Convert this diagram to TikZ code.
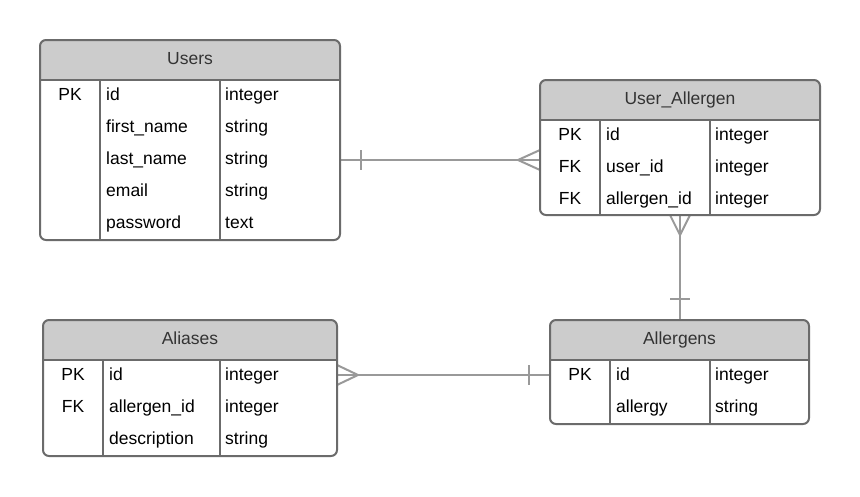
\documentclass[tikz,border=0pt]{standalone}
\usepackage{fontspec}
\setmainfont{Liberation Sans}
\usetikzlibrary{calc}
\definecolor{hdrfill}{HTML}{CCCCCC}
\definecolor{bordc}{HTML}{6B6B6B}
\definecolor{connc}{HTML}{999999}
\definecolor{ttlc}{HTML}{333333}
\pgfdeclarelayer{bg}
\pgfsetlayers{bg,main}
\tikzset{
  tblbox/.style={rectangle, inner sep=0pt, outer sep=0pt},
  hdr/.style={fill=hdrfill},
  bord/.style={draw=bordc, line width=2pt},
  conn/.style={draw=connc, line width=2pt},
  ttl/.style={anchor=base, inner sep=0pt, text=ttlc, font=\fontsize{17.5}{20}\selectfont},
  cell/.style={inner sep=0pt, text=black, font=\fontsize{17.5}{20}\selectfont},
}
\newcommand{\erdtable}[8]{%
  \def\tx{#2}\def\ty{#3}\def\txx{#4}\def\tyy{#5}\def\tca{#6}\def\tcb{#7}\def\tname{#1}%
  \pgfmathsetmacro\thb{#3+40}%
  \node[tblbox, minimum width={(#4-#2)*1pt}, minimum height={(#5-#3)*1pt}] (#1) at ({(#2+#4)/2},{(#3+#5)/2}) {};
  \begin{scope}
    \clip (#2,#3) rectangle (#4,\thb);
    \fill[hdr, rounded corners=6pt] (#2,#3) rectangle (#4,#5);
  \end{scope}
  \draw[bord, rounded corners=6pt] (#2,#3) rectangle (#4,#5);
  \draw[bord] (#2,\thb) -- (#4,\thb) (#6,\thb) -- (#6,#5) (#7,\thb) -- (#7,#5);
  \node[ttl] (#1-title) at ({(#2+#4)/2},{#3+24}) {#8};
}
\newcommand{\erdrow}[5]{%
  \pgfmathsetmacro\ry{\thb+20+32*(#2-1)}%
  \if\relax\detokenize{#3}\relax\else
    \node[cell, anchor=base] (\tname-k#1) at ({(\tx+\tca)/2},\ry) {#3};
  \fi
  \node[cell, anchor=base west] (\tname-f#1) at ({\tca+6},\ry) {#4};
  \node[cell, anchor=base west] (\tname-t#1) at ({\tcb+5},\ry) {#5};
}
\begin{document}
\begin{tikzpicture}[x=1pt, y=-1pt]
\useasboundingbox (0,0) rectangle (860,496);

\erdtable{users}{40}{40}{340}{240}{100}{220}{Users}
\erdrow{1}{1}{PK}{id}{integer}
\erdrow{2}{2}{}{first\_name}{string}
\erdrow{3}{3}{}{last\_name}{string}
\erdrow{4}{4}{}{email}{string}
\erdrow{5}{5}{}{password}{text}

\erdtable{ua}{540}{80}{820}{215}{600}{710}{User\_Allergen}
\erdrow{1}{1}{PK}{id}{integer}
\erdrow{2}{2}{FK}{user\_id}{integer}
\erdrow{3}{3}{FK}{allergen\_id}{integer}

\erdtable{aliases}{43}{320}{337}{456}{103}{220}{Aliases}
\erdrow{1}{1}{PK}{id}{integer}
\erdrow{2}{2}{FK}{allergen\_id}{integer}
\erdrow{3}{3}{}{description}{string}

\erdtable{allergens}{550}{320}{809}{424}{610}{710}{Allergens}
\erdrow{1}{1}{PK}{id}{integer}
\erdrow{2}{2}{}{allergy}{string}

\begin{pgfonlayer}{bg}
% Users -- User_Allergen
\coordinate (c1s) at ($(users.east)+(0,20)$);
\coordinate (c1e) at (c1s -| ua.west);
\draw[conn] (c1s) -- (c1e);
\draw[conn] ($(c1s)+(21,-10)$) -- ($(c1s)+(21,10)$);
\draw[conn] ($(c1e)+(0,-10)$) -- ($(c1e)+(-22,0)$) -- ($(c1e)+(0,10)$);
% User_Allergen -- Allergens
\coordinate (c2e) at (ua.south |- allergens.north);
\draw[conn] (ua.south) -- (c2e);
\draw[conn] ($(ua.south)+(-10,0)$) -- ($(ua.south)+(0,20)$) -- ($(ua.south)+(10,0)$);
\draw[conn] ($(c2e)+(-10,-21)$) -- ($(c2e)+(10,-21)$);
% Aliases -- Allergens
\coordinate (c3s) at ($(aliases.east)+(0,-13)$);
\coordinate (c3e) at (c3s -| allergens.west);
\draw[conn] (c3s) -- (c3e);
\draw[conn] ($(c3s)+(0,-10)$) -- ($(c3s)+(21,0)$) -- ($(c3s)+(0,10)$);
\draw[conn] ($(c3e)+(-21,-10)$) -- ($(c3e)+(-21,10)$);
\end{pgfonlayer}
\end{tikzpicture}
\end{document}
